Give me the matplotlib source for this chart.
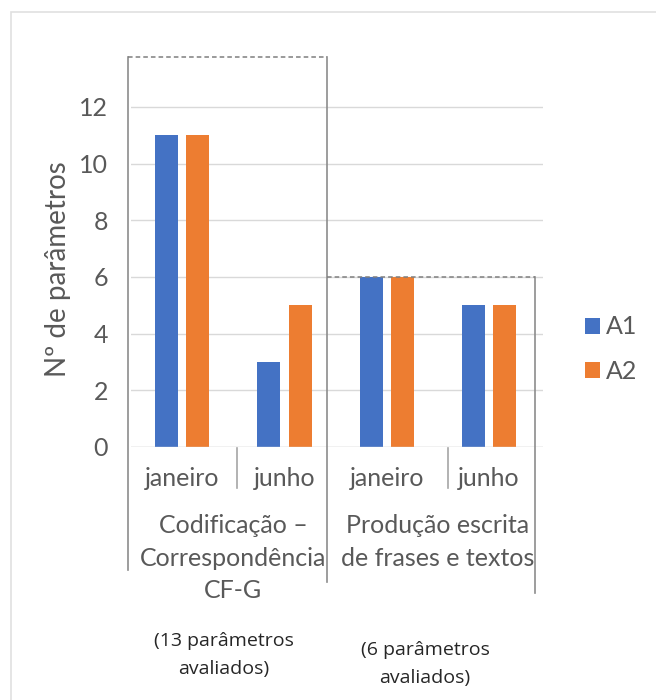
import matplotlib.pyplot as plt
import numpy as np
from matplotlib.patches import Rectangle

months = ['janeiro', 'junho', 'janeiro', 'junho']
groups = ['Codificação –\nCorrespondência\nCF-G', 'Produção escrita\nde frases e textos']
notes = ['(13 parâmetros\navaliados)', '(6 parâmetros\navaliados)']
a1 = [11, 3, 6, 5]
a2 = [11, 5, 6, 5]
series = ['A1', 'A2']
# hand-drawn reference boxes (total parameters per group)
box_tops = [13.77, 6]

W, H = 656, 700
grey = '#595959'
plt.rcParams['font.family'] = ['Lato', 'DejaVu Sans']

fig = plt.figure(figsize=(W / 100, H / 100), dpi=100)
fig.add_artist(Rectangle((11 / W, -0.1), 1, 1 - 12 / H + 0.1, transform=fig.transFigure,
                         fill=False, edgecolor='#e0e0e0', lw=1.2))

# pixel layout: y 0 at 447px, 12 at 107px; category 0 centred at 182px
ppu = (447 - 107) / 12
cw = 102.3
ytop = 12.5
x_left = 131
ax = fig.add_axes([x_left / W, 1 - 447 / H, (543 - x_left) / W, ytop * ppu / H])


def xpx(p):
    return (p - x_left) / cw - 0.5


def ypx(p):
    return (447 - p) / ppu


x = np.arange(len(months))
bw = 0.225
gap = 0.08
ax.bar(x - gap / 2 - bw / 2, a1, bw, color='#4472C4', label=series[0])
ax.bar(x + gap / 2 + bw / 2, a2, bw, color='#ED7D31', label=series[1])

ax.set_xlim(-0.5, xpx(543))
ax.set_ylim(0, ytop)
ax.set_yticks(range(0, 13, 2))
ax.yaxis.grid(True, color='#d9d9d9', lw=1)
ax.set_axisbelow(True)
for s in ax.spines.values():
    s.set_visible(False)
ax.tick_params(axis='y', length=0, labelsize=18, labelcolor=grey, pad=16.5)
ax.set_xticks([])
ax.axhline(0, color='#d9d9d9', lw=1)
fig.text(58 / W, 1 - 269 / H, 'Nº de parâmetros', rotation=90, ha='center', va='center',
         fontsize=20, color=grey)

# category labels
for i, m in enumerate(months):
    ax.text(i, ypx(478), m, ha='center', va='center', fontsize=18, color=grey)
for p in [237, 448]:
    ax.plot([xpx(p)] * 2, [ypx(448), ypx(488)], color='#a6a6a6', lw=1.2, clip_on=False)

# group labels and separators
for g, c in zip(groups, [0.5, 2.5]):
    ax.text(c, ypx(514), g, ha='center', va='top', fontsize=18, color=grey,
            linespacing=1.5)
line = dict(color='#8c8c8c', lw=1.2, clip_on=False)
ax.plot([xpx(128)] * 2, [box_tops[0], ypx(570)], **line)
ax.plot([xpx(327)] * 2, [box_tops[0], ypx(582)], **line)
ax.plot([xpx(535)] * 2, [box_tops[1], ypx(593)], **line)
ax.plot([xpx(128), xpx(327)], [box_tops[0]] * 2, color='#7f7f7f', lw=1.1, ls=(0, (3, 2)), clip_on=False)
ax.plot([xpx(327), xpx(535)], [box_tops[1]] * 2, color='#7f7f7f', lw=1.1, ls=(0, (3, 2)), clip_on=False)

# notes
ax.text(xpx(224), ypx(655), notes[0], ha='center', va='center', fontsize=14, color='#262626',
        family=['Open Sans', 'DejaVu Sans'], linespacing=1.75)
ax.text(xpx(425), ypx(664), notes[1], ha='center', va='center', fontsize=14, color='#262626',
        family=['Open Sans', 'DejaVu Sans'], linespacing=1.75)

ax.legend(loc='center left', bbox_to_anchor=(585 / W, 1 - 349 / H), bbox_transform=fig.transFigure,
          frameon=False, fontsize=18, labelcolor=grey, handlelength=0.6, handleheight=0.6,
          handletextpad=0.25, labelspacing=0.85, borderpad=0, borderaxespad=0)

fig.savefig('out.png', dpi=100)
